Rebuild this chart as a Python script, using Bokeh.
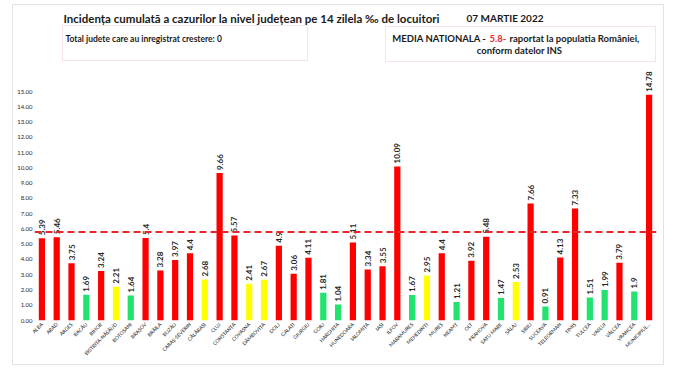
import math
from bokeh.plotting import figure
from bokeh.models import (ColumnDataSource, FactorRange, Range1d, FixedTicker,
                          PrintfTickFormatter, Span, Label, BoxAnnotation)
from bokeh.core.properties import value
from bokeh.embed import file_html
from bokeh.resources import INLINE

# ---------------- data ----------------
counties = ["ALBA", "ARAD", "ARGEȘ", "BACĂU", "BIHOR", "BISTRIȚA-NĂSĂUD", "BOTOȘANI",
            "BRAȘOV", "BRĂILA", "BUZĂU", "CARAȘ-SEVERIN", "CĂLĂRAȘI", "CLUJ", "CONSTANȚA",
            "COVASNA", "DÂMBOVIȚA", "DOLJ", "GALAȚI", "GIURGIU", "GORJ", "HARGHITA",
            "HUNEDOARA", "IALOMIȚA", "IAȘI", "ILFOV", "MARAMUREȘ", "MEHEDINȚI", "MUREȘ",
            "NEAMȚ", "OLT", "PRAHOVA", "SATU MARE", "SĂLAJ", "SIBIU", "SUCEAVA",
            "TELEORMAN", "TIMIȘ", "TULCEA", "VASLUI", "VÂLCEA", "VRANCEA",
            "MUNICIPIUL..."]
incidence = [5.39, 5.46, 3.75, 1.69, 3.24, 2.21, 1.64,
             5.4, 3.28, 3.97, 4.4, 2.68, 9.66, 5.57,
             2.41, 2.67, 4.9, 3.06, 4.11, 1.81, 1.04,
             5.11, 3.34, 3.55, 10.09, 1.67, 2.95, 4.4,
             1.21, 3.92, 5.48, 1.47, 2.53, 7.66, 0.91,
             4.13, 7.33, 1.51, 1.99, 3.79, 1.9,
             14.78]
y_ticks = list(range(0, 16))
national_avg = 5.8
counties_increasing = 0
title_text = "Incidența cumulată a cazurilor la nivel județean pe 14 zilela ‰ de locuitori"
date_text = "07 MARTIE 2022"

# ---------------- styling ----------------
RED, YELLOW, GREEN = "#ff0000", "#ffff00", "#22e36e"
def bar_color(v):
    if v < 2:
        return GREEN
    if v < 3:
        return YELLOW
    return RED

FONT = "Lato"
source = ColumnDataSource(dict(
    county=counties,
    val=incidence,
    color=[bar_color(v) for v in incidence],
    label=[f"{v:g}" for v in incidence],
))

# figure at page (8, 8), size 664 x 365 ; frame page x 42..664, y 13..328
PX0, PY0 = 8, 8
W, H = 664, 365
FRAME_L, FRAME_R, FRAME_T, FRAME_B = 42, 664, 13, 328
Y_TOP = (FRAME_B - FRAME_T) / ((328 - 99) / 15.0)
N = len(counties)

def xd(px):  # page px -> synthetic categorical coordinate (decorations only)
    return (px - FRAME_L) * N / (FRAME_R - FRAME_L)

def yd(py):  # page px -> data y (decorations only)
    return (FRAME_B - py) * Y_TOP / (FRAME_B - FRAME_T)

p = figure(width=W, height=H, output_backend="svg", toolbar_location=None,
           x_range=FactorRange(*counties, range_padding=0, factor_padding=0),
           y_range=Range1d(0, Y_TOP),
           min_border_left=FRAME_L - PX0, min_border_right=PX0 + W - FRAME_R,
           min_border_top=FRAME_T - PY0, min_border_bottom=PY0 + H - FRAME_B)
# light outer frame of the picture (page x 20..672, y 12..373)
p.border_fill_color = None
p.background_fill_color = None
p.styles = {"box-shadow": "inset 12px 4px 0 0 #ffffff, inset 13px 5px 0 0 #e2e2e2, "
                          "inset -1px -1px 0 0 #e2e2e2"}
p.outline_line_color = None
p.xgrid.grid_line_color = None
p.ygrid.grid_line_color = None

p.vbar(x="county", top="val", width=0.42, color="color", line_color=None, source=source)
p.text(x="county", y="val", text="label", angle=math.pi / 2, y_offset=-3,
       text_align="left", text_baseline="middle", text_font=value(FONT),
       text_font_style="bold", text_font_size="8px", text_color="#262626", source=source)

p.add_layout(Span(location=national_avg, dimension="width", line_color="#e8262b",
                  line_width=2, line_dash="7 4"))

# axes
for ax in (p.xaxis[0], p.yaxis[0]):
    ax.major_label_text_font = FONT
    ax.major_label_text_color = "#262626"
    ax.axis_line_color = None
    ax.major_tick_line_color = None
    ax.minor_tick_line_color = None
    ax.major_tick_out = 0
    ax.major_tick_in = 0
    ax.minor_tick_out = 0
    ax.minor_tick_in = 0
    ax.axis_label_standoff = 0

p.yaxis.ticker = FixedTicker(ticks=y_ticks)
p.yaxis.formatter = PrintfTickFormatter(format="%.2f")
p.yaxis.major_label_text_font_size = "6px"
p.yaxis.major_label_standoff = 2

p.xaxis.major_label_orientation = math.pi / 4
p.xaxis.major_label_text_font_size = "5px"
p.xaxis.major_label_standoff = 3

# header boxes
BOXC = "#e8a3ab"
for (l, r, t, b) in [(70, 315, 33, 68), (393, 663, 34, 69)]:
    p.add_layout(BoxAnnotation(left=xd(l), right=xd(r), top=yd(t), bottom=yd(b),
                               fill_color=None, line_color=BOXC, line_width=1))

def add_label(text, px, py, size, align="left", color="#1a1a1a"):
    p.add_layout(Label(x=xd(px), y=yd(py), text=text, text_font=FONT,
                       text_font_style="bold", text_font_size=size, text_color=color,
                       text_align=align, text_baseline="alphabetic"))

add_label(title_text, 71, 26, "11.5px")
add_label(date_text, 474, 25, "10px")
add_label(f"Total judete care au inregistrat crestere: {counties_increasing}", 73, 46, "8.5px")
add_label("MEDIA NATIONALA -", 494, 46, "9.5px", align="right")
add_label(f"{national_avg}-", 497, 46, "9.5px", color="#e8262b")
add_label("raportat la populatia României,", 517, 46, "9.5px")
add_label("conform datelor INS", 527, 58, "9.5px", align="center")

open("out.html", "w").write(file_html(p, INLINE))
